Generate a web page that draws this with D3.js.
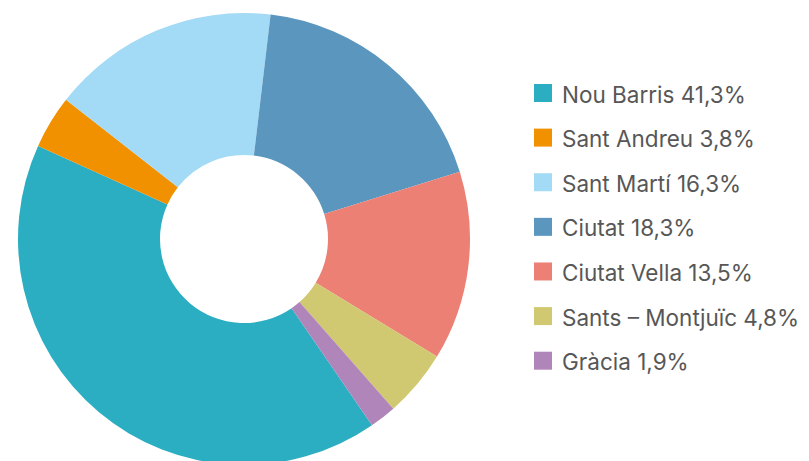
<!DOCTYPE html>
<html>
<head>
<meta charset="utf-8">
<script src="https://cdn.jsdelivr.net/npm/d3@7"></script>
<style>
  body { margin: 0; background: #fff; }
  .legend text { font-family: Inter, sans-serif; font-size: 22.5px; fill: #575757; }
</style>
</head>
<body>
<div class="donut"></div>
<script>
// districts, in legend order (clockwise on the ring)
var districts = ["Nou Barris", "Sant Andreu", "Sant Martí", "Ciutat", "Ciutat Vella", "Sants – Montjuïc", "Gràcia"];
var shares = [41.3, 3.8, 16.3, 18.3, 13.5, 4.8, 1.9];
var shareLabels = ["41,3%", "3,8%", "16,3%", "18,3%", "13,5%", "4,8%", "1,9%"];
var colours = ["#2baec1", "#f29100", "#a3daf6", "#5b96be", "#ec8074", "#d1c971", "#b086ba"];

var width = 809, height = 461;
var cx = 244, cy = 239, outerR = 226, innerR = 84;

var svg = d3.select(".donut").append("svg")
    .attr("width", width)
    .attr("height", height);

var color = d3.scaleOrdinal().domain(districts).range(colours);

var start = 145.5 * Math.PI / 180;
var pie = d3.pie()
    .value(function(d, i) { return shares[i]; })
    .sort(null)
    .startAngle(start)
    .endAngle(start + 2 * Math.PI);

var arc = d3.arc()
    .innerRadius(innerR)
    .outerRadius(outerR);

var ring = svg.append("g")
    .attr("transform", "translate(" + cx + "," + cy + ")");

ring.selectAll("path")
    .data(pie(districts))
  .enter().append("path")
    .attr("d", arc)
    .attr("fill", function(d) { return color(d.data); });

// legend
var rowY = d3.scalePoint()
    .domain(districts)
    .range([84, 351.7]);

var legend = svg.append("g").attr("class", "legend");

var row = legend.selectAll("g")
    .data(districts)
  .enter().append("g")
    .attr("transform", function(d) { return "translate(534," + rowY(d) + ")"; });

row.append("rect")
    .attr("width", 18)
    .attr("height", 18)
    .attr("fill", function(d) { return color(d); });

row.append("text")
    .attr("x", 28)
    .attr("y", 18.5)
    .text(function(d, i) { return d + " " + shareLabels[i]; });
</script>
</body>
</html>
